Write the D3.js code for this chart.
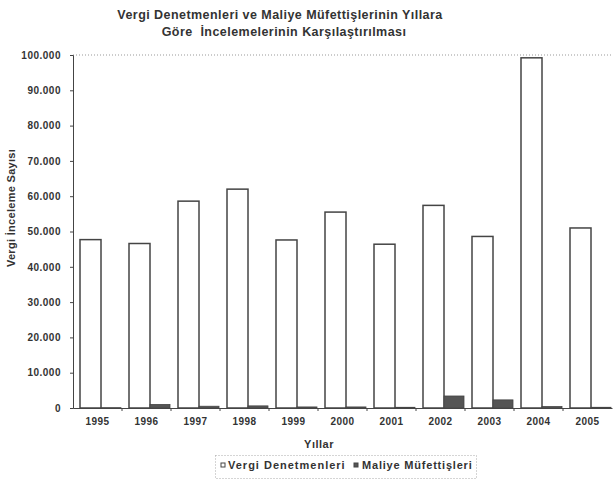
<!DOCTYPE html>
<html><head><meta charset="utf-8">
<script src="https://cdn.jsdelivr.net/npm/d3@7"></script>
<style>body{margin:0;background:#fff}svg{display:block}text{font-family:"Liberation Sans",Arial,sans-serif;font-weight:bold;fill:#333}</style>
</head><body>
<script>
const years = ["1995","1996","1997","1998","1999","2000","2001","2002","2003","2004","2005"];
const vergiDenetmenleri = [47700,46600,58600,62000,47600,55500,46400,57400,48600,99200,51000];
const maliyeMufettisleri = [100,1000,500,600,300,300,200,3400,2300,400,200];
const yTicks = [0,10000,20000,30000,40000,50000,60000,70000,80000,90000,100000];
const seriesNames = ["Vergi Denetmenleri","Maliye Müfettişleri"];

const W=613,H=481;
const svg=d3.select("body").append("svg").attr("width",W).attr("height",H);
const m={l:73,r:612,t:55,b:408};
const x=d3.scaleBand().domain(years).range([m.l,m.r]);
const y=d3.scaleLinear().domain([0,100000]).range([m.b,m.t]);
const fmt=v=>d3.format(",")(v).replace(/,/g,".");

// title
svg.append("text").attr("x",280).attr("y",19).attr("text-anchor","middle").style("font-size","12.5px").style("letter-spacing","0.45px").text("Vergi Denetmenleri ve Maliye Müfettişlerinin Yıllara");
svg.append("text").attr("x",284).attr("y",36).attr("text-anchor","middle").style("font-size","12.5px").style("letter-spacing","0.45px").style("white-space","pre").text("Göre  İncelemelerinin Karşılaştırılması");

// top dotted gridline
svg.append("line").attr("x1",m.l).attr("x2",m.r).attr("y1",y(100000)).attr("y2",y(100000))
  .attr("stroke","#999").attr("stroke-dasharray","1,2").attr("stroke-width",1);

// y axis
const ya=svg.append("g").attr("transform",`translate(${m.l},0)`)
  .call(d3.axisLeft(y).tickValues(yTicks).tickFormat(fmt).tickSize(3).tickPadding(9));
ya.select(".domain").attr("stroke","#444");
ya.selectAll(".tick line").attr("stroke","#444");
ya.selectAll("text").style("font-size","10px").style("letter-spacing","0.5px").style("font-family","'Liberation Sans',Arial,sans-serif").style("font-weight","bold").attr("fill","#333");

// bars
const bw=21, off=7;
const g=svg.append("g");
g.selectAll(".v").data(years).join("rect")
  .attr("x",d=>x(d)+off).attr("width",bw)
  .attr("y",(d,i)=>y(vergiDenetmenleri[i])).attr("height",(d,i)=>y(0)-y(vergiDenetmenleri[i]))
  .attr("fill","#fff").attr("stroke","#444").attr("stroke-width",1.5);
g.selectAll(".m").data(years).join("rect")
  .attr("x",d=>x(d)+off+bw).attr("width",bw-1)
  .attr("y",(d,i)=>y(maliyeMufettisleri[i])).attr("height",(d,i)=>y(0)-y(maliyeMufettisleri[i]))
  .attr("fill","#555").attr("stroke","#444").attr("stroke-width",0.8);

// x axis
const xa=svg.append("g").attr("transform",`translate(0,${m.b})`)
  .call(d3.axisBottom(x).tickSize(0).tickPadding(10));
xa.select(".domain").attr("stroke","#444").attr("stroke-width",1.2);
xa.selectAll("text").style("font-size","10px").style("letter-spacing","0.5px").style("font-family","'Liberation Sans',Arial,sans-serif").style("font-weight","bold").attr("fill","#333");
// boundary tick marks
svg.append("g").selectAll("line").data(years.slice(1)).join("line")
  .attr("x1",d=>x(d)).attr("x2",d=>x(d)).attr("y1",m.b).attr("y2",m.b+3).attr("stroke","#444");

// axis titles
svg.append("text").attr("x",319).attr("y",448).attr("text-anchor","middle").style("font-size","11px").style("letter-spacing","0.5px").text("Yıllar");
svg.append("text").attr("transform","translate(15,208) rotate(-90)").attr("text-anchor","middle").style("font-size","11px").style("letter-spacing","0.3px").text("Vergi İnceleme Sayısı");

// legend
const lg=svg.append("g");
lg.append("rect").attr("x",215.5).attr("y",455.5).attr("width",261).attr("height",23)
  .attr("fill","none").attr("stroke","#aaa").attr("stroke-dasharray","1,2");
lg.append("rect").attr("x",221).attr("y",463).attr("width",4).attr("height",4).attr("fill","#fff").attr("stroke","#444");
lg.append("text").attr("x",228).attr("y",469).style("font-size","11px").style("letter-spacing","1px").text(seriesNames[0]);
lg.append("rect").attr("x",354).attr("y",463).attr("width",4).attr("height",4).attr("fill","#555").attr("stroke","#444");
lg.append("text").attr("x",362).attr("y",469).style("font-size","11px").style("letter-spacing","0.8px").text(seriesNames[1]);
</script>
</body></html>
